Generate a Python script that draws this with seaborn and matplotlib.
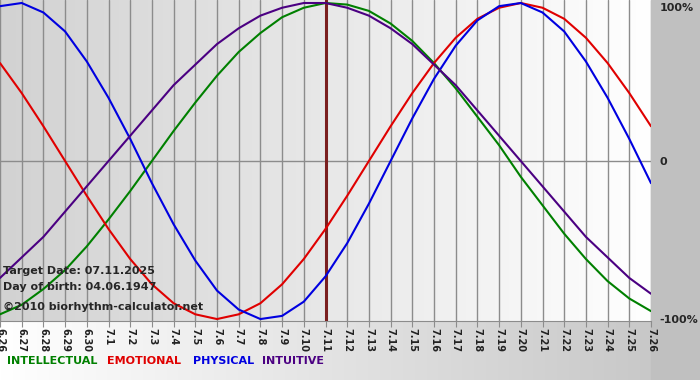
import matplotlib
matplotlib.use("Agg")
import matplotlib.pyplot as plt
import numpy as np
import pandas as pd
import seaborn as sns

# day labels (month.day) from 6.26 to 7.26
days = ["6.26", "6.27", "6.28", "6.29", "6.30"] + ["7.%d" % i for i in range(1, 27)]

# rhythm values, one per day
physical = [0.98, 1.00, 0.94, 0.82, 0.63, 0.40, 0.14, -0.14, -0.40, -0.63, -0.82,
            -0.94, -1.00, -0.98, -0.89, -0.73, -0.52, -0.27, 0.00, 0.27, 0.52,
            0.73, 0.89, 0.98, 1.00, 0.94, 0.82, 0.63, 0.40, 0.14, -0.14]
emotional = [0.62, 0.43, 0.22, 0.00, -0.22, -0.43, -0.62, -0.78, -0.90, -0.97, -1.00,
             -0.97, -0.90, -0.78, -0.62, -0.43, -0.22, 0.00, 0.22, 0.43, 0.62,
             0.78, 0.90, 0.97, 1.00, 0.97, 0.90, 0.78, 0.62, 0.43, 0.22]
intellectual = [-0.97, -0.91, -0.81, -0.69, -0.54, -0.37, -0.19, 0.00, 0.19, 0.37, 0.54,
                0.69, 0.81, 0.91, 0.97, 1.00, 0.99, 0.95, 0.87, 0.76, 0.62,
                0.46, 0.28, 0.10, -0.10, -0.28, -0.46, -0.62, -0.76, -0.87, -0.95]
intuitive = [-0.74, -0.61, -0.48, -0.32, -0.16, 0.00, 0.16, 0.32, 0.48, 0.61, 0.74,
             0.84, 0.92, 0.97, 1.00, 1.00, 0.97, 0.92, 0.84, 0.74, 0.61,
             0.48, 0.32, 0.16, 0.00, -0.16, -0.32, -0.48, -0.61, -0.74, -0.84]

target_day = "7.11"
info_lines = ["Target Date: 07.11.2025", "Day of birth: 04.06.1947", "\u00a92010 biorhythm-calculator.net"]
legend_names = ["INTELLECTUAL", "EMOTIONAL", "PHYSICAL", "INTUITIVE"]
colors = {"INTELLECTUAL": "#008000", "EMOTIONAL": "#e00000", "PHYSICAL": "#0000e0", "INTUITIVE": "#4b0082"}

# long-form table for seaborn
series = {"INTELLECTUAL": intellectual, "EMOTIONAL": emotional, "PHYSICAL": physical, "INTUITIVE": intuitive}
rows = []
for name, vals in series.items():
    for i, v in enumerate(vals):
        rows.append({"day": i, "value": v, "rhythm": name})
df = pd.DataFrame(rows)

sns.set_style("white")
plt.rcParams["font.family"] = ["DejaVu Sans"]

fig = plt.figure(figsize=(7, 3.8), dpi=100)

# background: bottom band gradient + grey right panel
bg = fig.add_axes([0, 0, 1, 1])
bg.set_axis_off()
grad = np.linspace(0, 1, 256).reshape(1, -1)
bg.imshow(grad, extent=[0, 1, 0, 1], aspect="auto",
          cmap=matplotlib.colors.LinearSegmentedColormap.from_list("b", ["#ffffff", "#c4c4c4"]))
bg.add_patch(plt.Rectangle((0.93, 0), 0.07, 1, color="#c0c0c0", zorder=2))
bg.set_xlim(0, 1)
bg.set_ylim(0, 1)

ax = fig.add_axes([0, 0.155, 0.93, 0.845])
ax.set_xlim(0, 30)
ax.set_ylim(-1.013, 1.019)
ax.imshow(grad, extent=[0, 30, -1.013, 1.019], aspect="auto", zorder=0,
          cmap=matplotlib.colors.LinearSegmentedColormap.from_list("p", ["#d2d2d2", "#e8e8e8", "#ffffff"]))

# day grid
for i in range(len(days)):
    ax.axvline(i, color="#8c8c8c", lw=1, zorder=1)
ax.axhline(0, color="#8c8c8c", lw=1, zorder=1)
ti = days.index(target_day)
ax.axvline(ti, color="#7a1f1f", lw=2.2, zorder=2)

sns.lineplot(data=df, x="day", y="value", hue="rhythm", palette=colors, ax=ax,
             legend=False, linewidth=1.5, zorder=3)

ax.set_xticks(range(len(days)))
ax.set_xticklabels(days, rotation=-90, fontsize=7, fontweight="bold", color="#222222")
ax.tick_params(axis="x", length=4, color="#8c8c8c", pad=1, bottom=True)
ax.yaxis.tick_right()
ax.set_yticks([1, 0, -1])
ax.set_yticklabels(["100%", "0", "-100%"], fontsize=8, fontweight="bold")
ax.get_yticklabels()[0].set_va("top")
ax.tick_params(axis="y", length=0, pad=6)
ax.set_xlabel("")
ax.set_ylabel("")
for s in ["top", "left", "right"]:
    ax.spines[s].set_visible(False)
ax.spines["bottom"].set_color("#8c8c8c")

# info text
for y, txt in zip([271, 287, 307], info_lines):
    fig.text(3 / 700, 1 - y / 380, txt, fontsize=8, fontweight="bold", va="center", ha="left")

# legend labels
for x, name in zip([7, 107, 193, 262], legend_names):
    fig.text(x / 700, 1 - 361 / 380, name, fontsize=8, fontweight="bold", color=colors[name],
             va="center", ha="left")

fig.savefig("out.png", dpi=100)
